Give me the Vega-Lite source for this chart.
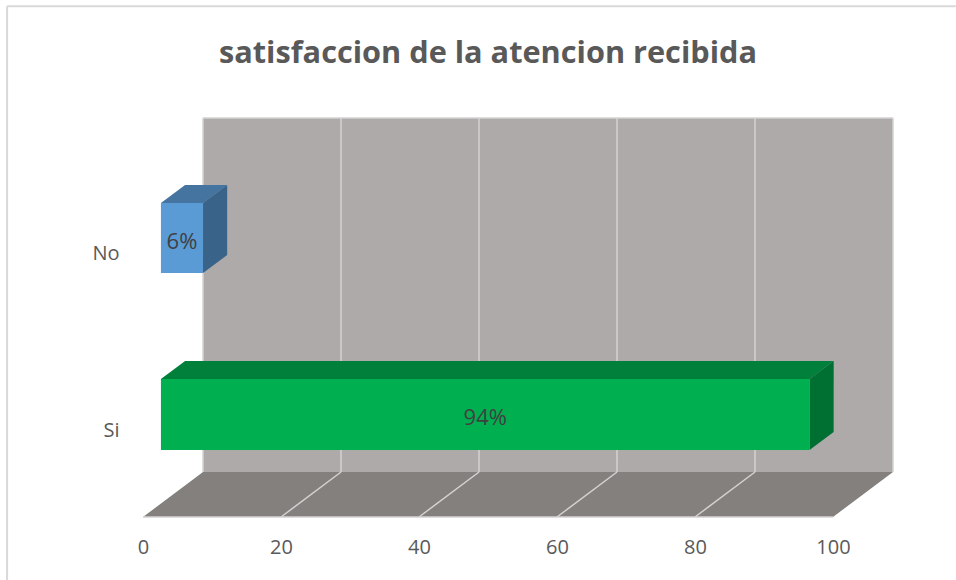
{
  "$schema": "https://vega.github.io/schema/vega-lite/v6.json",
  "width": 750,
  "height": 399,
  "autosize": "none",
  "padding": {"left": 143, "top": 118, "right": 63, "bottom": 63},
  "background": "white",
  "view": {"stroke": null},
  "title": {"text": "satisfaccion de la atencion recibida", "font": "Open Sans", "fontSize": 30.7, "fontWeight": "bold", "color": "#595959", "anchor": "middle", "dx": -30, "offset": -64},
  "datasets": {
    "frame": [
      {"x": -19.7, "x2": 117.8, "y": 128, "y2": 128},
      {"x": -19.7, "x2": -19.7, "y": 128, "y2": -16}
    ],
    "wall": [
      {"x": 8.7, "x2": 108.7, "y": 11.28, "y2": 100}
    ],
    "floor": [
      {"x": 0, "x2": 100, "y": 0},
      {"x": 8.7, "x2": 108.7, "y": 11.28}
    ],
    "grid": [
      {"x": 8.7, "x2": 8.7, "y": 11.28, "y2": 100},
      {"x": 8.7, "x2": 108.7, "y": 100, "y2": 100},
      {"x": 108.7, "x2": 108.7, "y": 11.28, "y2": 100},
      {"x": 0, "x2": 100, "y": 0, "y2": 0},
      {"x": 28.7, "x2": 28.7, "y": 11.28, "y2": 100},
      {"x": 48.7, "x2": 48.7, "y": 11.28, "y2": 100},
      {"x": 68.7, "x2": 68.7, "y": 11.28, "y2": 100},
      {"x": 88.7, "x2": 88.7, "y": 11.28, "y2": 100},
      {"x": 20, "x2": 28.7, "y": 0, "y2": 11.28},
      {"x": 40, "x2": 48.7, "y": 0, "y2": 11.28},
      {"x": 60, "x2": 68.7, "y": 0, "y2": 11.28},
      {"x": 80, "x2": 88.7, "y": 0, "y2": 11.28}
    ],
    "tops": [
      {"part": "No top", "x": 2.6, "x2": 8.7, "y": 78.7},
      {"part": "No top", "x": 6.1, "x2": 12.2, "y": 83.2},
      {"part": "Si top", "x": 2.6, "x2": 96.6, "y": 34.6},
      {"part": "Si top", "x": 6.1, "x2": 100.1, "y": 39.1}
    ],
    "sides": [
      {"part": "No side", "x": 8.7, "y": 61.15, "y2": 78.7},
      {"part": "No side", "x": 12.2, "y": 65.66, "y2": 83.2},
      {"part": "Si side", "x": 96.6, "y": 16.8, "y2": 34.6},
      {"part": "Si side", "x": 100.1, "y": 21.3, "y2": 39.1}
    ],
    "fronts": [
      {"respuesta": "No", "x": 2.6, "x2": 8.7, "y": 61.15, "y2": 78.7},
      {"respuesta": "Si", "x": 2.6, "x2": 96.6, "y": 16.8, "y2": 34.6}
    ],
    "labels": [
      {"label": "6%", "x": 5.65, "y": 69.0},
      {"label": "94%", "x": 49.6, "y": 24.9}
    ]
  },
  "layer": [
    {
      "data": {"name": "frame"},
      "mark": {"type": "rule", "color": "#d9d9d9", "strokeWidth": 2},
      "encoding": {
        "x": {"field": "x", "type": "quantitative", "scale": {"domain": [0, 108.7], "nice": false, "zero": false},
          "axis": {"values": [0, 20, 40, 60, 80, 100], "title": null, "grid": false, "domain": false, "ticks": false, "labelFont": "Open Sans", "labelFontSize": 20, "labelColor": "#595959", "labelPadding": 20, "labelFlush": false, "labelOverlap": false}},
        "x2": {"field": "x2"},
        "y": {"field": "y", "type": "quantitative", "scale": {"domain": [0, 100], "nice": false, "zero": false},
          "axis": {"values": [21.6, 66.0], "labelExpr": "datum.value > 50 ? 'No' : 'Si'", "title": null, "grid": false, "domain": false, "ticks": false, "labelFont": "Open Sans", "labelFontSize": 20, "labelColor": "#595959", "labelPadding": 24}},
        "y2": {"field": "y2"}
      }
    },
    {
      "data": {"name": "wall"},
      "mark": {"type": "rect", "color": "#aeaaaa"},
      "encoding": {
        "x": {"field": "x", "type": "quantitative"},
        "x2": {"field": "x2"},
        "y": {"field": "y", "type": "quantitative"},
        "y2": {"field": "y2"}
      }
    },
    {
      "data": {"name": "floor"},
      "mark": {"type": "area", "orient": "horizontal", "color": "#83807e"},
      "encoding": {
        "y": {"field": "y", "type": "quantitative"},
        "x": {"field": "x", "type": "quantitative"},
        "x2": {"field": "x2"}
      }
    },
    {
      "data": {"name": "grid"},
      "mark": {"type": "rule", "color": "#d4d2d2", "strokeWidth": 1.5},
      "encoding": {
        "x": {"field": "x", "type": "quantitative"},
        "x2": {"field": "x2"},
        "y": {"field": "y", "type": "quantitative"},
        "y2": {"field": "y2"}
      }
    },
    {
      "data": {"name": "tops"},
      "mark": {"type": "area", "orient": "horizontal"},
      "encoding": {
        "y": {"field": "y", "type": "quantitative"},
        "x": {"field": "x", "type": "quantitative"},
        "x2": {"field": "x2"},
        "fill": {"field": "part", "type": "nominal", "legend": null, "scale": {"domain": ["No top", "Si top", "No side", "Si side", "No", "Si"], "range": ["#44749f", "#00803a", "#3a6389", "#006f32", "#5b9bd5", "#00b050"]}}
      }
    },
    {
      "data": {"name": "sides"},
      "mark": {"type": "area", "orient": "vertical"},
      "encoding": {
        "x": {"field": "x", "type": "quantitative"},
        "y": {"field": "y", "type": "quantitative"},
        "y2": {"field": "y2"},
        "fill": {"field": "part", "type": "nominal", "legend": null}
      }
    },
    {
      "data": {"name": "fronts"},
      "mark": {"type": "rect"},
      "encoding": {
        "x": {"field": "x", "type": "quantitative"},
        "x2": {"field": "x2"},
        "y": {"field": "y", "type": "quantitative"},
        "y2": {"field": "y2"},
        "fill": {"field": "respuesta", "type": "nominal", "legend": null}
      }
    },
    {
      "data": {"name": "labels"},
      "mark": {"type": "text", "font": "Open Sans", "fontSize": 22, "color": "#404040"},
      "encoding": {
        "x": {"field": "x", "type": "quantitative"},
        "y": {"field": "y", "type": "quantitative"},
        "text": {"field": "label", "type": "nominal"}
      }
    }
  ]
}
